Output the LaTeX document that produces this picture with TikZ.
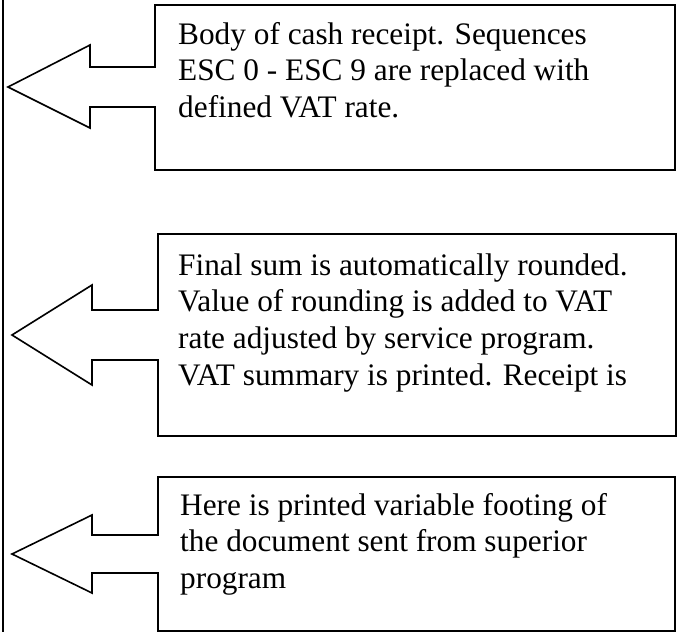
\documentclass[tikz,border=0pt]{standalone}
\usepackage{fontspec}
\setmainfont{Liberation Serif}
\begin{document}
\begin{tikzpicture}[x=1pt,y=-1pt,
  outline/.style={draw=black,line width=1.6pt,line join=miter},
  % a multi-line node's base anchor sits on the baseline of its last line
  bodytext/.style={anchor=base west,inner sep=0pt,align=left,
    font=\fontsize{31.3}{36.7}\selectfont}]
\useasboundingbox (0,0) rectangle (677,632);

% vertical rail on the left
\coordinate (railtop) at (3,0);
\coordinate (railbot) at (3,632);
\draw[outline] (railtop) -- (railbot);

% callout 1: box merged with a left-pointing block arrow
\draw[outline] (675,5) -- (155,5) -- (155,67) -- (90,67) -- (90,45) -- (8,87)
  -- (90,128) -- (90,107) -- (155,107) -- (155,170) -- (675,170) -- cycle;
\node[bodytext] (t1) at (178,117.4)
  {Body of cash receipt. Sequences\\ESC 0 - ESC 9 are replaced with\\defined VAT rate.};

% callout 2
\draw[outline] (676,234) -- (158,234) -- (158,310) -- (92,310) -- (92,285) -- (12,335)
  -- (92,385) -- (92,360) -- (158,360) -- (158,436) -- (676,436) -- cycle;
\node[bodytext] (t2) at (178,385.1)
  {Final sum is automatically rounded.\\Value of rounding is added to VAT\\rate adjusted by service program.\\VAT summary is printed. Receipt is};

% callout 3
\draw[outline] (675,477) -- (158,477) -- (158,535) -- (92,535) -- (92,515) -- (12,554)
  -- (92,593) -- (92,573) -- (158,573) -- (158,631) -- (675,631) -- cycle;
\node[bodytext] (t3) at (180,588.4)
  {Here is printed variable footing of\\the document sent from superior\\program};
\end{tikzpicture}
\end{document}
